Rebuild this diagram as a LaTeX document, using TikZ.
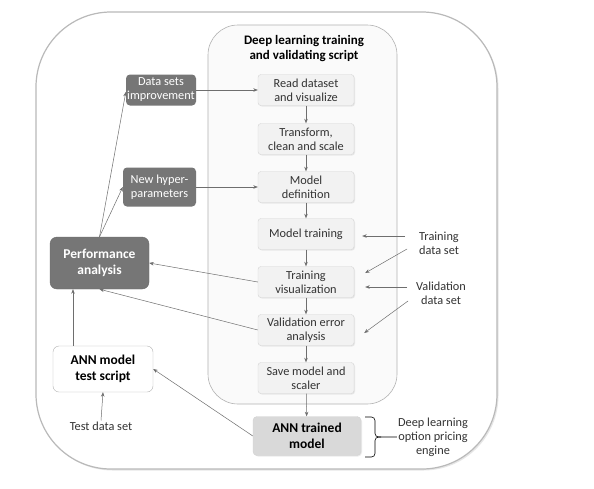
\documentclass[tikz,border=0pt]{standalone}
\usepackage{fontspec}
\setmainfont{Carlito}
\usetikzlibrary{arrows.meta,shadows}
\definecolor{darkbox}{HTML}{767676}
\definecolor{stepfill}{HTML}{F2F2F2}
\definecolor{stepline}{HTML}{D4D4D4}
\definecolor{txt}{HTML}{333333}
\definecolor{arrowc}{HTML}{6E6E6E}
\tikzset{
  stepbox/.style={draw=stepline, fill=stepfill, rounded corners=3pt, minimum width=96pt, minimum height=31pt,
    align=center, inner sep=0pt, text=txt, font=\fontsize{12.3}{14}\selectfont,
    drop shadow={opacity=0.15, shadow xshift=1pt, shadow yshift=-1pt}},
  darkstep/.style={fill=darkbox, rounded corners=4pt, align=center, inner sep=0pt, text=white,
    font=\fontsize{12.3}{14}\selectfont},
  perfbox/.style={fill=darkbox, draw=darkbox!90!black, rounded corners=7pt, align=center, text=white,
    minimum width=99pt, minimum height=52pt, inner sep=0pt, font=\bfseries\fontsize{13.5}{16}\selectfont},
  testbox/.style={fill=white, draw=gray!60, rounded corners=6pt, align=center, text=black,
    minimum width=100pt, minimum height=46pt, inner sep=0pt, font=\bfseries\fontsize{13.5}{16}\selectfont},
  trainedbox/.style={fill=gray!30, draw=gray!35, rounded corners=4pt, align=center, text=black,
    minimum width=108pt, minimum height=39pt, inner sep=0pt, font=\bfseries\fontsize{13.5}{16}\selectfont,
    drop shadow={opacity=0.15, shadow xshift=1pt, shadow yshift=-1pt}},
  lbl/.style={align=center, text=txt, font=\fontsize{12.3}{14}\selectfont, inner sep=1pt},
  arr/.style={draw=arrowc, line width=0.5pt, -{Stealth[length=4.5pt,width=3.5pt]}},
}
\begin{document}
\begin{tikzpicture}[x=1pt,y=-1pt]
\useasboundingbox (0,0) rectangle (594,488);
% outer frame
\draw[gray!55, line width=1.2pt, fill=white, rounded corners=75pt,
  drop shadow={opacity=0.2, shadow xshift=1.5pt, shadow yshift=-1.5pt}] (36,12) rectangle (497,469);
% inner script frame
\draw[gray!60, line width=0.6pt, fill=gray!4, rounded corners=30pt] (208,25) rectangle (397,404);
\node[font=\bfseries\fontsize{13}{15}\selectfont, align=center] (title) at (304,49) {Deep learning training\\and validating script};

% steps
\node[stepbox] (read) at (306,90) {Read dataset\\and visualize};
\node[stepbox] (trans) at (306,139) {Transform,\\clean and scale};
\node[stepbox] (def) at (306,187) {Model\\definition};
\node[stepbox] (train) at (306,234) {Model training};
\node[stepbox] (trvis) at (306,282) {Training\\visualization};
\node[stepbox] (valerr) at (306,330) {Validation error\\analysis};
\node[stepbox] (save) at (306,378) {Save model and\\scaler};
\node[trainedbox] (trained) at (307,436) {ANN trained\\model};

% left nodes
\node[darkstep, minimum width=70pt, minimum height=31pt] (dsi) at (161,90) {Data sets\\improvement};
\node[darkstep, minimum width=73pt, minimum height=39pt] (hyper) at (159.5,187) {New hyper-\\parameters};
\node[perfbox] (perf) at (99.5,263) {Performance\\analysis};
\node[testbox] (test) at (103,369) {ANN model\\test script};
\node[lbl] (testds) at (101,426) {Test data set};

% right labels
\node[lbl] (tds) at (439,243) {Training\\data set};
\node[lbl] (vds) at (441,293) {Validation\\data set};
\node[lbl] (engine) at (433,437) {Deep learning\\option pricing\\engine};

% brace
\draw[black, line width=0.6pt, rounded corners=3.5pt] (365,417) -- (375,417) -- (375,437) -- (engine.west);
\draw[black, line width=0.6pt, rounded corners=3.5pt] (365,457) -- (375,457) -- (375,437) -- (381,437);

% step flow
\draw[arr] (read) -- (trans);
\draw[arr] (trans) -- (def);
\draw[arr] (def) -- (train);
\draw[arr] (train) -- (trvis);
\draw[arr] (trvis) -- (valerr);
\draw[arr] (valerr) -- (save);
\draw[arr] (save) -- (trained);

% feedback
\draw[arr] (dsi) -- (read);
\draw[arr] (hyper) -- (def);
\draw[arr] (perf.north) -- ([yshift=-2pt]dsi.west);
\draw[arr] (perf.north) -- (hyper.west);
\draw[arr] (trvis.west) -- (perf.east);
\draw[arr] (valerr.west) -- (perf.south);
\draw[arr] ([xshift=-30pt]test.north) -- ([xshift=-26.5pt]perf.south);
\draw[arr] (testds.north) -- (test.south);
\draw[arr] (trained.west) -- (test.east);

% data set arrows
\coordinate (t1) at (405,236);
\coordinate (t2) at (407,249);
\coordinate (v1) at (407,287);
\coordinate (v2) at (408,301);
\draw[arr] (t1) -- ([xshift=8pt]train.east |- t1);
\draw[arr] (t2) -- ([xshift=11pt,yshift=9pt]trvis.east);
\draw[arr] (v1) -- ([xshift=11pt]trvis.east |- v1);
\draw[arr] (v2) -- ([xshift=10pt,yshift=-3pt]valerr.east);
\end{tikzpicture}
\end{document}
